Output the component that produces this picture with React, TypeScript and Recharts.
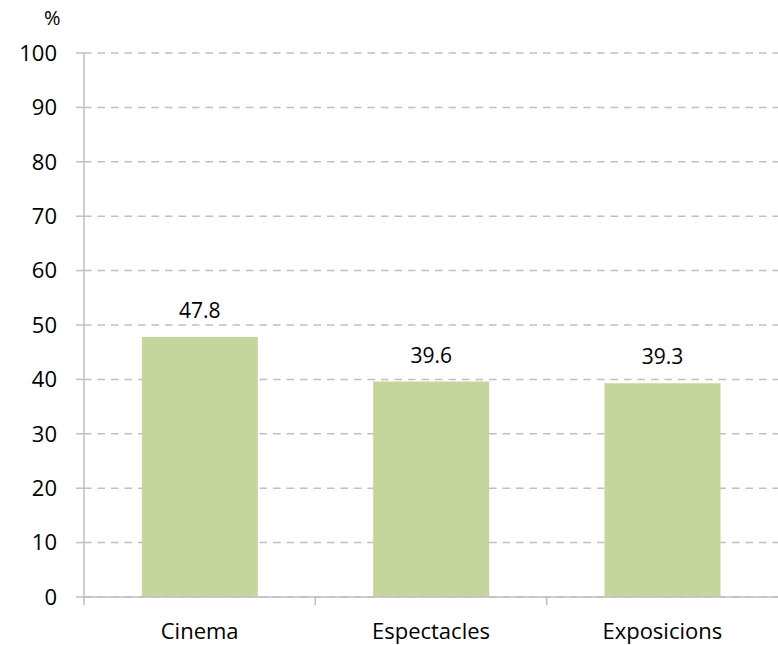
import React from "react";
import { BarChart, Bar, XAxis, YAxis, CartesianGrid, LabelList } from "recharts";

const categories = ["Cinema", "Espectacles", "Exposicions"];
const values = [47.8, 39.6, 39.3];
const yTicks = [0, 10, 20, 30, 40, 50, 60, 70, 80, 90, 100];
const unitLabel = "%";

const data = categories.map((name, i) => ({ name, value: values[i] }));

const W = 778;
const H = 645;
const LEFT = 84;
const FONT = "'Open Sans', sans-serif";
const GRAY = "#bfbfbf";
const halfBand = (W - LEFT) / (2 * categories.length);

const XTick = (props: any) => {
  const { x, y, payload } = props;
  return (
    <g>
      <line x1={x - halfBand} x2={x - halfBand} y1={y - 8} y2={y} stroke={GRAY} strokeWidth={1.5} />
      <text x={x} y={y + 34} textAnchor="middle" fontFamily={FONT} fontSize={22} fill="#000">
        {payload.value}
      </text>
    </g>
  );
};

export default function App() {
  return (
    <div style={{ position: "absolute", left: 0, top: 0, width: W, height: H, background: "#fff" }}>
      <BarChart
        width={W}
        height={H}
        data={data}
        margin={{ top: 53, right: 0, bottom: 0, left: 0 }}
        barCategoryGap="25%"
      >
        <CartesianGrid vertical={false} stroke="#c0c0c0" strokeDasharray="7.5 6" strokeWidth={1.5} />
        <XAxis
          dataKey="name"
          height={48}
          tickLine={false}
          axisLine={{ stroke: GRAY, strokeWidth: 1.5 }}
          tick={<XTick />}
          interval={0}
        />
        <YAxis
          width={LEFT}
          domain={[0, 100]}
          ticks={yTicks}
          interval={0}
          tickSize={8}
          tickMargin={19}
          tickLine={{ stroke: GRAY, strokeWidth: 1.5 }}
          axisLine={{ stroke: GRAY, strokeWidth: 1.5 }}
          tick={{ fontFamily: FONT, fontSize: 22, fill: "#000" }}
          label={{ value: unitLabel, position: "insideTopLeft", offset: 0, dx: 44, dy: -42, fontFamily: FONT, fontSize: 20, fill: "#000" }}
        />
        <Bar dataKey="value" fill="#c4d69b" isAnimationActive={false}>
          <LabelList dataKey="value" position="top" offset={19} fontFamily={FONT} fontSize={21} fill="#000" formatter={(v: any) => Number(v).toFixed(1)} />
        </Bar>
      </BarChart>
    </div>
  );
}
